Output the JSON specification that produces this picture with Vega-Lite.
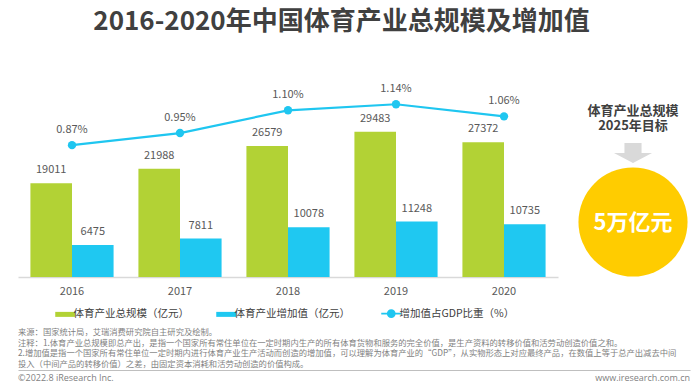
{
  "$schema": "https://vega.github.io/schema/vega-lite/v6.json",
  "autosize": {"type": "pad"},
  "padding": {"left": 5, "top": 9, "right": 0, "bottom": 0},
  "background": "white",
  "config": {
    "view": {"stroke": null},
    "font": "Noto Sans CJK SC",
    "axis": {"labelFont": "Noto Sans CJK SC"},
    "legend": {"labelFont": "Noto Sans CJK SC"},
    "title": {"font": "Noto Sans CJK SC"}
  },
  "title": {
    "text": "2016-2020年中国体育产业总规模及增加值",
    "fontSize": 26,
    "fontWeight": "bold",
    "color": "#404040",
    "anchor": "middle",
    "dx": -10,
    "offset": 45
  },
  "datasets": {
    "bars": [
      {"年份": "2016", "指标": "体育产业总规模（亿元）", "数值": 19011},
      {"年份": "2016", "指标": "体育产业增加值（亿元）", "数值": 6475},
      {"年份": "2017", "指标": "体育产业总规模（亿元）", "数值": 21988},
      {"年份": "2017", "指标": "体育产业增加值（亿元）", "数值": 7811},
      {"年份": "2018", "指标": "体育产业总规模（亿元）", "数值": 26579},
      {"年份": "2018", "指标": "体育产业增加值（亿元）", "数值": 10078},
      {"年份": "2019", "指标": "体育产业总规模（亿元）", "数值": 29483},
      {"年份": "2019", "指标": "体育产业增加值（亿元）", "数值": 11248},
      {"年份": "2020", "指标": "体育产业总规模（亿元）", "数值": 27372},
      {"年份": "2020", "指标": "体育产业增加值（亿元）", "数值": 10735}
    ],
    "line": [
      {"年份": "2016", "占比": 0.0087},
      {"年份": "2017", "占比": 0.0095},
      {"年份": "2018", "占比": 0.0110},
      {"年份": "2019", "占比": 0.0114},
      {"年份": "2020", "占比": 0.0106}
    ],
    "target": [
      {"标题": "体育产业总规模\n2025年目标", "目标": "5万亿元"}
    ],
    "credits": [
      {"文字": "©2022.8 iResearch Inc."},
      {"文字": "www.iresearch.com.cn"}
    ]
  },
  "spacing": 7,
  "resolve": {"scale": {"color": "independent"}, "legend": {"color": "independent"}},
  "vconcat": [
    {
      "spacing": 10,
      "resolve": {"scale": {"color": "independent"}, "legend": {"color": "independent"}},
      "hconcat": [
        {
          "width": 540,
          "height": 197,
          "resolve": {"scale": {"y": "independent"}},
          "layer": [
            {
              "data": {"name": "bars"},
              "layer": [
                {
                  "mark": {"type": "bar"},
                  "encoding": {
                    "x": {
                      "field": "年份", "type": "nominal",
                      "scale": {"paddingInner": 0.23, "paddingOuter": 0.115},
                      "axis": {"title": null, "labelAngle": 0, "ticks": false, "domainColor": "#d9d9d9", "domainWidth": 1.3, "labelColor": "#595959", "labelFontSize": 11, "labelPadding": 8, "grid": false}
                    },
                    "xOffset": {"field": "指标", "type": "nominal", "scale": {"domain": ["体育产业总规模（亿元）", "体育产业增加值（亿元）"]}},
                    "y": {
                      "field": "数值", "type": "quantitative",
                      "scale": {"domain": [0, 37900]},
                      "axis": {"labels": false, "ticks": false, "domain": false, "grid": false, "title": null, "minExtent": 13, "maxExtent": 13}
                    },
                    "color": {
                      "field": "指标", "type": "nominal",
                      "scale": {"domain": ["体育产业总规模（亿元）", "体育产业增加值（亿元）", "增加值占GDP比重（%）"], "range": ["#B2D235", "#1FC8F1", "#1FC6F0"]},
                      "legend": {
                        "title": null,
                        "orient": "none",
                        "legendX": 42,
                        "legendY": 228,
                        "direction": "horizontal",
                        "labelFontSize": 10.5,
                        "labelColor": "#404040",
                        "labelLimit": 300,
                        "labelOffset": 3,
                        "symbolSize": 400,
                        "columnPadding": 27,
                        "encode": {
                          "symbols": {
                            "update": {
                              "shape": {"signal": "datum.label === '增加值占GDP比重（%）' ? 'M-1,0H1M0.35,0A0.35,0.35,0,1,1,-0.35,0A0.35,0.35,0,1,1,0.35,0Z' : 'M-1,-0.25H1V0.25H-1Z'"},
                              "fill": {"signal": "datum.label === '体育产业总规模（亿元）' ? '#B2D235' : '#1FC8F1'"},
                              "stroke": {"signal": "datum.label === '体育产业总规模（亿元）' ? '#B2D235' : '#1FC8F1'"},
                              "strokeWidth": {"signal": "datum.label === '增加值占GDP比重（%）' ? 1.8 : 0"},
                              "opacity": {"value": 1},
                              "size": {"value": 400}
                            }
                          }
                        }
                      }
                    }
                  }
                },
                {
                  "mark": {"type": "text", "baseline": "alphabetic", "dy": -10, "fontSize": 11, "color": "#595959"},
                  "encoding": {
                    "x": {"field": "年份", "type": "nominal"},
                    "xOffset": {"field": "指标", "type": "nominal", "scale": {"domain": ["体育产业总规模（亿元）", "体育产业增加值（亿元）"]}},
                    "y": {"field": "数值", "type": "quantitative"},
                    "text": {"field": "数值", "type": "quantitative", "format": "d"}
                  }
                }
              ]
            },
            {
              "data": {"name": "line"},
              "layer": [
                {
                  "mark": {"type": "line", "strokeWidth": 2.2, "point": {"filled": true, "size": 70, "opacity": 1}},
                  "encoding": {
                    "x": {"field": "年份", "type": "nominal"},
                    "y": {"field": "占比", "type": "quantitative", "scale": {"domain": [0, 0.013]}, "axis": null},
                    "color": {"datum": "增加值占GDP比重（%）"}
                  }
                },
                {
                  "mark": {"type": "text", "baseline": "alphabetic", "dy": -12, "fontSize": 11, "color": "#595959"},
                  "encoding": {
                    "x": {"field": "年份", "type": "nominal"},
                    "y": {"field": "占比", "type": "quantitative"},
                    "text": {"field": "占比", "type": "quantitative", "format": ".2%"}
                  }
                }
              ]
            }
          ]
        },
        {
          "width": 130,
          "height": 197,
          "data": {"name": "target"},
          "layer": [
            {
              "mark": {"type": "text", "lineBreak": "\n", "lineHeight": 15, "fontSize": 13, "fontWeight": "bold", "color": "#404040", "yOffset": -67.5},
              "encoding": {"text": {"field": "标题"}}
            },
            {
              "mark": {"type": "point", "shape": "M-0.45,-0.53H0.45V0H1L0,0.53L-1,0H-0.45Z", "size": 1444, "filled": true, "color": "#D9D9D9", "opacity": 1, "yOffset": -25.5},
              "encoding": {}
            },
            {
              "mark": {"type": "point", "shape": "circle", "size": 11900, "filled": true, "color": "#FFCC00", "opacity": 1, "yOffset": 43.5},
              "encoding": {}
            },
            {
              "mark": {"type": "text", "fontSize": 22, "fontWeight": "bold", "color": "white", "yOffset": 44.5},
              "encoding": {"text": {"field": "目标"}}
            }
          ]
        }
      ]
    },
    {
      "width": 672,
      "height": 16,
      "title": {
        "text": [
          "来源：国家统计局，艾瑞消费研究院自主研究及绘制。",
          "注释：1.体育产业总规模即总产出，是指一个国家所有常住单位在一定时期内生产的所有体育货物和服务的完全价值，是生产资料的转移价值和活劳动创造价值之和。",
          "2.增加值是指一个国家所有常住单位一定时期内进行体育产业生产活动而创造的增加值，可以理解为体育产业的“GDP”，从实物形态上对应最终产品，在数值上等于总产出减去中间",
          "投入（中间产品的转移价值）之差，由固定资本消耗和活劳动创造的价值构成。"
        ],
        "anchor": "start",
        "fontSize": 8.3,
        "fontWeight": "normal",
        "color": "#7f7f7f",
        "lineHeight": 10.5,
        "offset": 2
      },
      "data": {"name": "credits"},
      "encoding": {
        "x": {
          "field": "文字", "type": "nominal",
          "scale": {"type": "point", "padding": 0, "domain": ["©2022.8 iResearch Inc.", "www.iresearch.com.cn"]},
          "axis": {"orient": "top", "labels": false, "ticks": false, "title": null, "domainColor": "#bfbfbf", "domainWidth": 1.2, "grid": false}
        },
        "text": {"field": "文字"}
      },
      "layer": [
        {
          "transform": [{"filter": "datum['文字'] !== 'www.iresearch.com.cn'"}],
          "mark": {"type": "text", "align": "left", "fontSize": 9, "color": "#7f7f7f", "font": "Open Sans"}
        },
        {
          "transform": [{"filter": "datum['文字'] === 'www.iresearch.com.cn'"}],
          "mark": {"type": "text", "align": "right", "fontSize": 9, "color": "#7f7f7f", "font": "Open Sans"}
        }
      ]
    }
  ]
}
